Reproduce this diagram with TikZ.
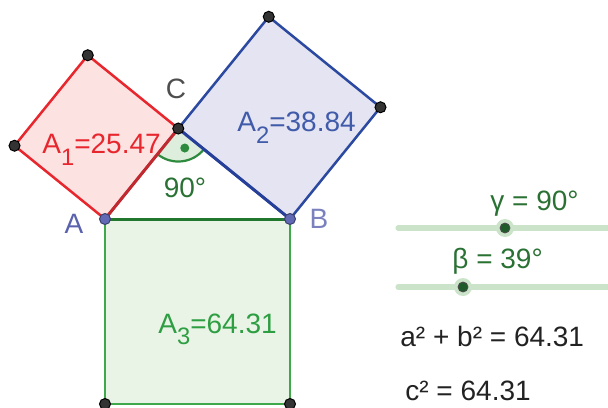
\documentclass[tikz,border=0pt]{standalone}
\usepackage{fontspec}
\setmainfont{Liberation Sans}
\usepackage{tikz}
\usetikzlibrary{positioning,calc}

\definecolor{redline}{HTML}{E8262D}
\definecolor{redfill}{HTML}{FDE2E2}
\definecolor{redside}{HTML}{BE2A30}
\definecolor{blueline}{HTML}{2B49A0}
\definecolor{bluefill}{HTML}{E4E4F2}
\definecolor{blueside}{HTML}{26409A}
\definecolor{greenline}{HTML}{3FA84B}
\definecolor{greenfill}{HTML}{E9F4E6}
\definecolor{greenside}{HTML}{22772F}
\definecolor{greentext}{HTML}{2E9E42}
\definecolor{darkgreen}{HTML}{2A7134}
\definecolor{anglefill}{HTML}{DDEEDC}
\definecolor{anglegreen}{HTML}{2E8A3C}
\definecolor{trackgreen}{HTML}{CBE3C9}
\definecolor{knobgreen}{HTML}{1F5A2B}
\definecolor{ptgray}{HTML}{333333}
\definecolor{ptblue}{HTML}{6169B5}
\definecolor{labelblue}{HTML}{5A62AE}
\definecolor{textgray}{HTML}{222222}

\newcommand{\lowsub}[1]{\raisebox{-0.4em}{\scalebox{0.85}{#1}}}

\begin{document}
\begin{tikzpicture}[x=0.5pt, y=0.5pt,
  sq/.style={line width=1.25pt, line join=round},
  tri/.style={line width=1.5pt, line cap=round},
  pt/.style={circle, draw=black, line width=0.5pt, fill=ptgray,
    minimum size=5.5pt, inner sep=0pt},
  apex/.style={pt, fill=ptblue, draw=ptblue!60!black},
  txt/.style={font=\fontsize{14}{17}\selectfont, inner sep=0pt},
  track/.style={line width=2.6pt, draw=trackgreen, line cap=round},
  knob/.style={circle, fill=knobgreen, draw=black!70, line width=0.4pt,
    minimum size=5pt, inner sep=0pt},
  halo/.style={circle, fill=trackgreen, minimum size=9pt, inner sep=0pt}
]
\useasboundingbox (0,0) rectangle (608,407);

\coordinate (A) at (105,188);
\coordinate (B) at (290,188);
\coordinate (C) at (178.27,278.48);
\coordinate (R1) at (87.79,351.75);
\coordinate (R2) at (14.52,261.27);
\coordinate (U1) at (380.48,299.73);
\coordinate (U2) at (268.75,390.21);
\coordinate (G1) at (290,3);
\coordinate (G2) at (105,3);

\filldraw[sq, draw=redline, fill=redfill] (A) -- (C) -- (R1) -- (R2) -- cycle;
\filldraw[sq, draw=blueline, fill=bluefill] (C) -- (B) -- (U1) -- (U2) -- cycle;
\filldraw[sq, draw=greenline, fill=greenfill] (A) -- (B) -- (G1) -- (G2) -- cycle;

\fill[anglefill] (C) -- ++(231:33) arc (231:321:33) -- cycle;
\draw[anglegreen, line width=1.1pt] ($(C)+(231:33)$) arc (231:321:33);
\fill[anglegreen] ($(C)+(6.5,-19.5)$) circle (4.5);

\draw[tri, greenside] (A) -- (B);
\draw[tri, redside] (A) -- (C);
\draw[tri, blueside] (C) -- (B);

\node[pt] (r1) at (R1) {};
\node[pt] (r2) at (R2) {};
\node[pt] (u1) at (U1) {};
\node[pt] (u2) at (U2) {};
\node[pt] (g1) at (G1) {};
\node[pt] (g2) at (G2) {};
\node[pt] (c) at (C) {};
\node[apex] (a) at (A) {};
\node[apex] (b) at (B) {};

\node[txt, text=textgray!80] (lc) at (176,318) {C};
\node[txt, text=labelblue] (la) at (74,183) {A};
\node[txt, text=labelblue!80] (lb) at (319,188) {B};
\node[txt, text=darkgreen] (ang) at (185,219) {90°};

\node[txt, text=redline, anchor=base west] (a1) at (42,253) {A\lowsub{1}=25.47};
\node[txt, text=blueline!90!white, anchor=base west] (a2) at (237,275) {A\lowsub{2}=38.84};
\node[txt, text=greentext, anchor=base west] (a3) at (158,74) {A\lowsub{3}=64.31};

\coordinate (g0) at (398,179);
\coordinate (g9) at (612,179);
\coordinate (b0) at (398,120);
\coordinate (b9) at (612,120);
\draw[track] (g0) -- (g9);
\draw[track] (b0) -- (b9);
\node[halo] (hg) at (505,179) {};
\node[knob] (kg) at (505,179) {};
\node[halo] (hb) at (463,120) {};
\node[knob] (kb) at (463,120) {};

\node[txt, text=darkgreen, anchor=base west] (lg) at (490,197) {γ = 90°};
\node[txt, text=darkgreen, anchor=base west] (lbeta) at (452,139) {β = 39°};
\node[txt, text=textgray, anchor=base west] (sum) at (400,61) {a² + b² = 64.31};
\node[txt, text=textgray, anchor=base west] (hyp) at (405,7) {c² = 64.31};
\end{tikzpicture}
\end{document}
